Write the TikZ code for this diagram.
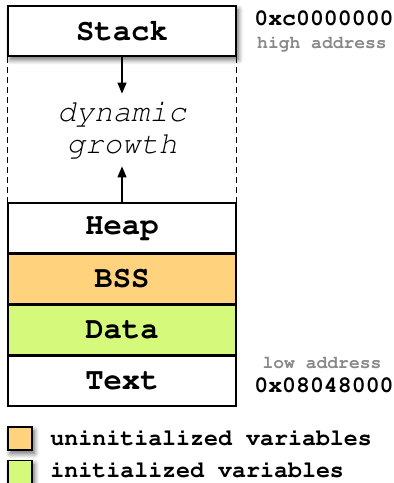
\documentclass[tikz,border=0pt]{standalone}
\usepackage[T1]{fontenc}
\renewcommand{\ttdefault}{pcr}
\usetikzlibrary{arrows.meta, positioning, fit, backgrounds, shadows.blur}
\definecolor{bsscolor}{RGB}{255, 211, 126}
\definecolor{datacolor}{RGB}{213, 249, 122}
\definecolor{addrgray}{RGB}{136, 136, 136}

\begin{document}
\begin{tikzpicture}[
    x=0.5pt, y=-0.5pt,
    >={Triangle[width=4.5pt, length=5.5pt]},
    seg/.style={rectangle, draw, line width=0.8pt, minimum width=114pt, minimum height=24.75pt,
                inner sep=0pt, font=\ttfamily\bfseries\fontsize{15.3}{18}\selectfont},
    sshadow/.style={blur shadow={shadow xshift=1.2pt, shadow yshift=-1.8pt, shadow blur radius=2.5pt, shadow blur steps=8, shadow opacity=60}},
    arrow/.style={->, line width=0.6pt},
    addr/.style={font=\ttfamily\bfseries\fontsize{11.6}{13}\selectfont, inner sep=0pt},
    label/.style={font=\ttfamily\bfseries\fontsize{9}{11}\selectfont, text=addrgray, inner sep=0pt},
    key/.style={rectangle, draw, line width=0.6pt, minimum width=12pt, minimum height=11.5pt, inner sep=0pt},
    keytext/.style={font=\ttfamily\bfseries\fontsize{11.65}{13}\selectfont, anchor=west, inner sep=0pt}
]
\useasboundingbox (0,0) rectangle (394,483);

% Stack at the top
\node[seg, fill=white, sshadow, minimum height=25pt] (stack) at (122,31) {Stack};

% Lower segments
\node[seg, fill=white] (heap) at (122,228) {Heap};
\node[seg, fill=bsscolor, below=0pt of heap] (bss) {BSS};
\node[seg, fill=datacolor, below=0pt of bss] (data) {Data};
\node[seg, fill=white, below=0pt of data] (text) {Text};
\begin{scope}[on background layer]
\node[fit=(heap)(text), inner sep=0pt, fill=white, sshadow] {};
\end{scope}

% Free space between stack and heap
\draw[dashed, line width=0.5pt, dash pattern=on 3pt off 2pt] (stack.south west) -- (heap.north west);
\draw[dashed, line width=0.5pt, dash pattern=on 3pt off 2pt] (stack.south east) -- (heap.north east);

\node[font=\ttfamily\slshape\fontsize{15.4}{15.6}\selectfont, align=center, inner sep=0pt,
      minimum height=36pt] (growth) at (122,130) {dynamic\\growth};
\draw[arrow] (stack) -- (growth);
\draw[arrow] (heap) -- (growth);

% Addresses
\node[addr, anchor=west] (hiaddr) at (254,18) {0xc0000000};
\node[label] (hilabel) at (322,44) {high address};
\node[label] (lolabel) at (322,363) {low address};
\node[addr, anchor=west] (loaddr) at (254,385) {0x08048000};

% Legend
\node[key, fill=bsscolor, sshadow] (keybss) at (20,438.5) {};
\node[key, fill=datacolor, sshadow] (keydata) at (20,472) {};
\node[keytext] at (50,438) {uninitialized variables};
\node[keytext] at (50,470) {initialized variables};

\end{tikzpicture}
\end{document}
